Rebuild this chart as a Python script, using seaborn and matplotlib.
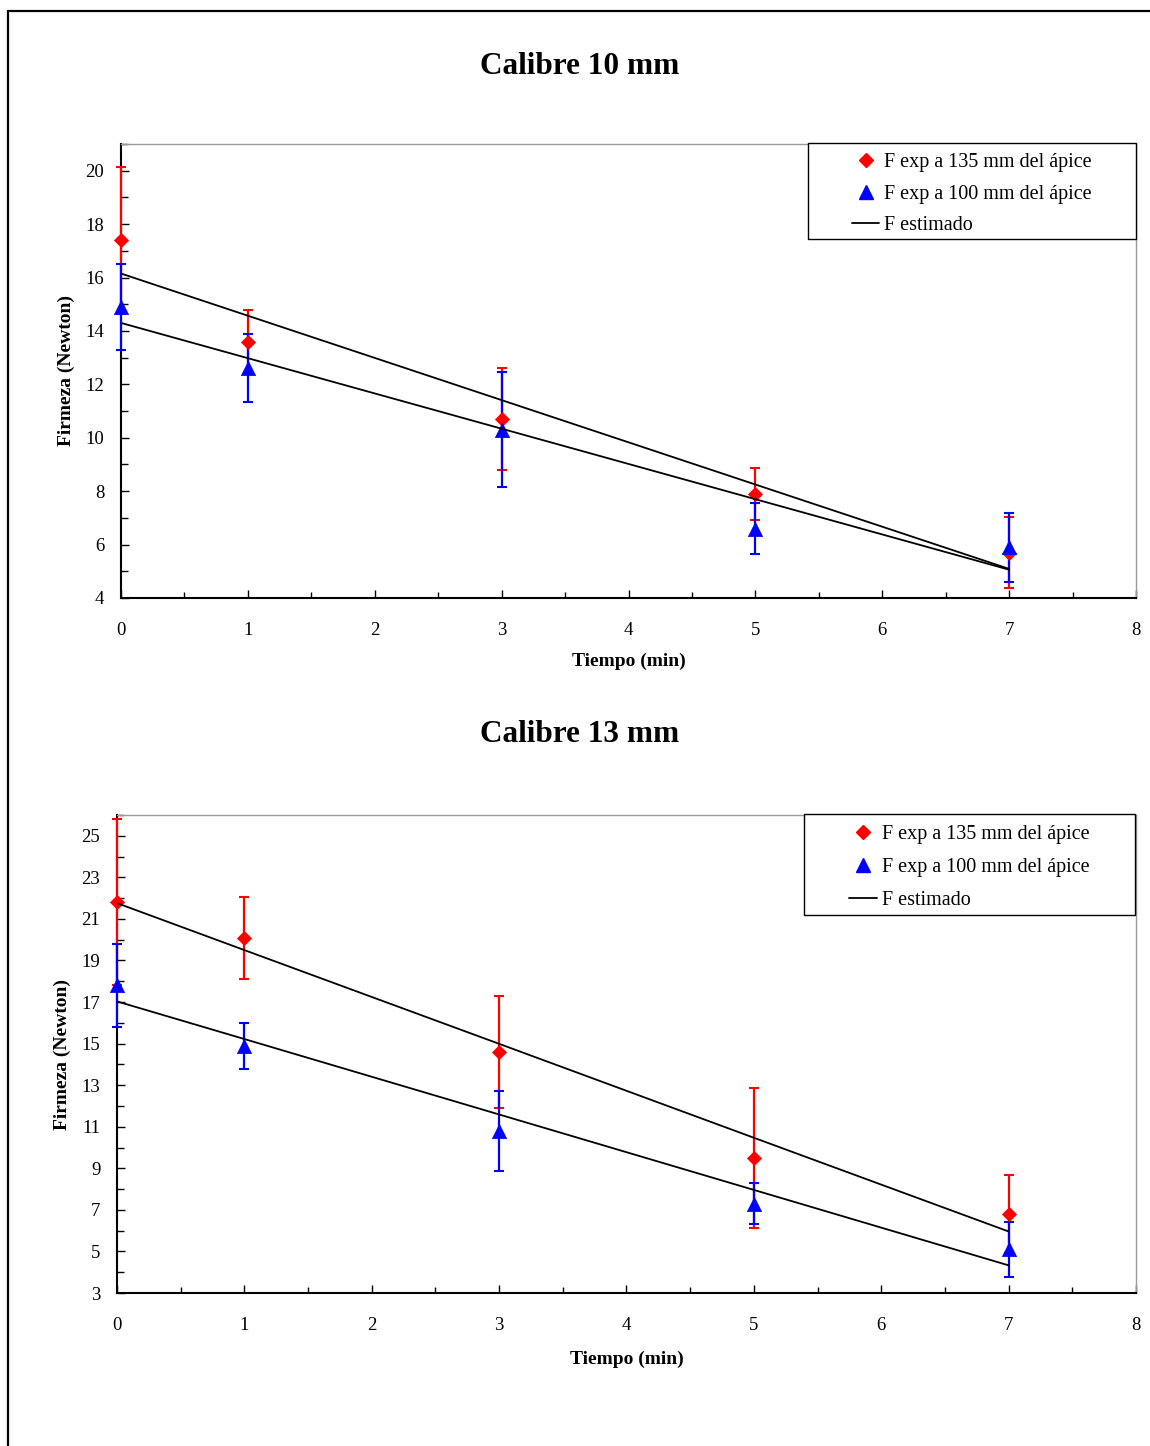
import matplotlib
matplotlib.use("Agg")
import matplotlib.pyplot as plt
import seaborn as sns
import pandas as pd
from matplotlib.lines import Line2D
from matplotlib.patches import Rectangle
from matplotlib.ticker import MultipleLocator

# Sampling times (min)
tiempo = [0, 1, 3, 5, 7]

# Calibre 10 mm
f135_10 = [17.4, 13.6, 10.7, 7.9, 5.7]
err135_10 = [2.75, 1.18, 1.9, 0.98, 1.33]
f100_10 = [14.9, 12.6, 10.3, 6.6, 5.9]
err100_10 = [1.6, 1.27, 2.15, 0.97, 1.3]
est135_10 = [16.15, 14.57, 11.41, 8.25, 5.09]
est100_10 = [14.30, 12.98, 10.34, 7.70, 5.06]

# Calibre 13 mm
f135_13 = [21.8, 20.1, 14.6, 9.5, 6.8]
err135_13 = [4.0, 1.97, 2.7, 3.38, 1.88]
f100_13 = [17.8, 14.9, 10.8, 7.3, 5.1]
err100_13 = [2.0, 1.1, 1.92, 1.0, 1.32]
est135_13 = [21.76, 19.50, 14.99, 10.47, 5.96]
est100_13 = [17.03, 15.22, 11.59, 7.96, 4.33]

titulos = ["Calibre 10 mm", "Calibre 13 mm"]
etiquetas = ["F exp a 135 mm del ápice", "F exp a 100 mm del ápice", "F estimado"]

sns.set_theme(style="white")
plt.rcParams["font.family"] = ["Liberation Serif", "DejaVu Serif"]
plt.rcParams["text.color"] = "black"
plt.rcParams["axes.labelcolor"] = "black"
plt.rcParams["xtick.color"] = "black"
plt.rcParams["ytick.color"] = "black"

RED = "#ff0000"
BLUE = "#0000ff"

fig = plt.figure(figsize=(11.5, 14.46), dpi=100)
W, H = 1150, 1446


def px_axes(left, top, right, bottom):
    return fig.add_axes([left / W, 1 - bottom / H, (right - left) / W, (bottom - top) / H])


ax1 = px_axes(121, 144, 1136, 598)
ax2 = px_axes(117, 815, 1136, 1293)


def barras(ax, x, y, err, color, z):
    cont = ax.errorbar(x, y, yerr=err, fmt="none", ecolor=color,
                       elinewidth=1.6, capsize=3.6, capthick=1.5, zorder=z)
    for art in cont.lines[1]:
        art.set_clip_on(False)
    for art in cont.lines[2]:
        art.set_clip_on(False)


def dibujar(ax, f135, e135, f100, e100, est135, est100, ylim, ystart):
    df = pd.DataFrame({"t": tiempo, "f135": f135, "f100": f100,
                       "est135": est135, "est100": est100})
    barras(ax, df["t"], df["f135"], e135, RED, 3)
    barras(ax, df["t"], df["f100"], e100, BLUE, 3.1)
    sns.scatterplot(data=df, x="t", y="f135", marker="D", s=52, color=RED,
                    edgecolor=RED, linewidth=0.5, ax=ax, zorder=3.5, legend=False,
                    clip_on=False)
    sns.scatterplot(data=df, x="t", y="f100", marker="^", s=105, color=BLUE,
                    edgecolor=BLUE, linewidth=0.5, ax=ax, zorder=3.6, legend=False,
                    clip_on=False)
    sns.lineplot(data=df, x="t", y="est135", color="black", lw=1.3, ax=ax, zorder=4)
    sns.lineplot(data=df, x="t", y="est100", color="black", lw=1.3, ax=ax, zorder=4)

    ax.set_xlim(0, 8)
    ax.set_ylim(*ylim)
    ax.xaxis.set_major_locator(MultipleLocator(1))
    ax.xaxis.set_minor_locator(MultipleLocator(0.5))
    ax.set_yticks(list(range(ystart, int(ylim[1]), 2)))
    ax.yaxis.set_minor_locator(MultipleLocator(1))
    ax.tick_params(which="both", direction="in", colors="black", labelsize=13.5,
                   left=True, bottom=True, top=False, right=False)
    ax.tick_params(axis="x", which="major", length=6, width=1, pad=17)
    ax.tick_params(axis="x", which="minor", length=4, width=1)
    ax.tick_params(axis="y", which="major", length=6, width=1, pad=12)
    ax.tick_params(axis="y", which="minor", length=5, width=1)

    for s in ("left", "bottom"):
        ax.spines[s].set_color("black")
        ax.spines[s].set_linewidth(1.5)
    for s in ("top", "right"):
        ax.spines[s].set_color("#9a9a9a")
        ax.spines[s].set_linewidth(1.0)

    ax.set_xlabel("Tiempo (min)", fontsize=14, fontweight="bold")
    ax.set_ylabel("Firmeza (Newton)", fontsize=14, fontweight="bold")
    ax.xaxis.set_label_coords(0.5, -0.121)
    ax.yaxis.set_label_coords(-0.045, 0.5)


dibujar(ax1, f135_10, err135_10, f100_10, err100_10, est135_10, est100_10, (4, 21), 4)
dibujar(ax2, f135_13, err135_13, f100_13, err100_13, est135_13, est100_13, (3, 26), 3)

handles = [
    Line2D([], [], ls="none", marker="D", ms=7.2, color=RED, mec=RED),
    Line2D([], [], ls="none", marker="^", ms=10, color=BLUE, mec=BLUE),
    Line2D([], [], color="black", lw=1.3),
]


def leyenda(ax, box, spacing, shift):
    x0, y0, x1, y1 = box
    ax.add_patch(Rectangle((x0, y0), x1 - x0, y1 - y0, transform=ax.transAxes,
                           facecolor="white", edgecolor="black", lw=1.0,
                           clip_on=False, zorder=5))
    ax.legend(handles, etiquetas, loc="center",
              bbox_to_anchor=((x0 + x1) / 2, (y0 + y1) / 2 - shift),
              frameon=False, fontsize=14.5, handlelength=1.35, handletextpad=0.25,
              labelspacing=spacing, borderpad=0.2).set_zorder(6)


leyenda(ax1, (0.6768, 0.7907, 1.0, 1.002), 0.63, 0.0066)
leyenda(ax2, (0.674, 0.791, 0.999, 1.002), 0.7, 0.0063)

fig.text(580 / W, 1 - 66 / H, titulos[0], ha="center", va="center",
         fontsize=22.5, fontweight="bold")
fig.text(580 / W, 1 - 734 / H, titulos[1], ha="center", va="center",
         fontsize=22.5, fontweight="bold")

# page frame (top and left edges)
fig.add_artist(Line2D([7.5 / W, 7.5 / W], [0, 1 - 11 / H], color="black", lw=1.6,
                      transform=fig.transFigure))
fig.add_artist(Line2D([7.5 / W, 1], [1 - 11 / H, 1 - 11 / H], color="black", lw=1.6,
                      transform=fig.transFigure))

fig.savefig("out.png", dpi=100, facecolor="white")
